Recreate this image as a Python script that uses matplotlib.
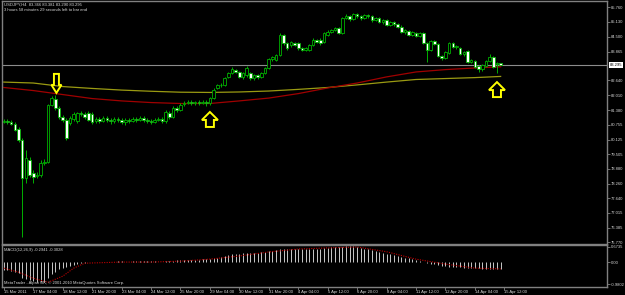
import numpy as np
import matplotlib
matplotlib.use("Agg")
import matplotlib.pyplot as plt
from matplotlib.patches import Rectangle, Polygon

# USDJPY H4 candles
opens = [80.87, 80.92, 80.87, 80.79, 80.58, 80.11, 78.49, 79.26, 78.71, 78.58, 78.62, 79.13,
         79.17, 81.60, 81.85, 81.47, 81.09, 80.96, 80.83, 81.00, 80.92, 81.26, 81.21, 81.26,
         81.21, 80.92, 81.00, 80.92, 81.04, 80.96, 80.92, 81.00, 80.96, 80.87, 80.96, 80.92,
         81.00, 80.96, 81.04, 80.96, 80.92, 80.87, 80.96, 81.00, 80.92, 81.26, 81.09, 81.47,
         81.38, 81.64, 81.68, 81.72, 81.68, 81.72, 81.68, 81.72, 81.68, 81.89, 82.32, 82.45,
         82.45, 82.79, 82.96, 83.08, 83.00, 82.79, 82.87, 82.96, 82.74, 82.87, 82.79, 82.96,
         83.17, 83.55, 83.51, 83.72, 84.57, 84.23, 84.15, 84.23, 84.23, 84.02, 83.93, 83.93,
         84.15, 84.36, 84.36, 84.27, 84.57, 84.70, 84.78, 84.87, 84.66, 85.29, 85.38, 85.25,
         85.46, 85.38, 85.29, 85.42, 85.38, 85.21, 85.29, 85.12, 85.21, 85.00, 85.12, 85.04,
         84.91, 84.70, 84.74, 84.57, 84.66, 84.53, 84.66, 84.23, 83.93, 84.32, 84.19, 83.68,
         83.59, 83.81, 84.23, 84.06, 84.02, 83.76, 83.89, 83.42, 83.47, 83.25, 83.13, 83.25,
         83.47, 83.64, 83.34, 83.366]
highs = [81.00, 81.00, 80.96, 80.87, 80.66, 80.19, 79.68, 79.39, 78.83, 78.75, 79.26, 79.30,
         81.64, 81.98, 82.02, 81.55, 81.17, 81.04, 81.13, 81.30, 81.30, 81.34, 81.30, 81.34,
         81.30, 81.09, 81.09, 81.13, 81.13, 81.04, 81.09, 81.09, 81.04, 81.04, 81.04, 81.09,
         81.09, 81.13, 81.13, 81.04, 81.00, 81.04, 81.09, 81.09, 81.38, 81.34, 81.55, 81.55,
         81.68, 81.77, 81.81, 81.81, 81.77, 81.81, 81.81, 81.81, 81.94, 82.32, 82.49, 82.53,
         82.79, 83.00, 83.21, 83.13, 83.04, 83.00, 83.25, 83.00, 82.91, 82.91, 83.00, 83.21,
         83.59, 83.68, 83.76, 84.66, 84.61, 84.27, 84.32, 84.27, 84.27, 84.06, 84.06, 84.19,
         84.44, 84.40, 84.44, 84.70, 84.78, 84.83, 84.91, 84.91, 85.34, 85.46, 85.42, 85.51,
         85.51, 85.42, 85.46, 85.46, 85.42, 85.34, 85.34, 85.25, 85.25, 85.17, 85.17, 85.08,
         85.00, 84.83, 84.78, 84.74, 84.70, 84.70, 84.70, 84.27, 84.36, 84.36, 84.23, 83.72,
         83.89, 84.27, 84.27, 84.15, 84.06, 83.89, 83.93, 83.55, 83.51, 83.30, 83.34, 83.51,
         83.76, 83.68, 83.42, 83.381]
lows = [80.83, 80.79, 80.75, 80.49, 80.02, 75.99, 78.28, 78.54, 78.28, 78.49, 78.54, 79.05,
        79.13, 81.55, 81.38, 81.00, 80.87, 80.11, 80.75, 80.92, 80.83, 81.13, 81.00, 80.92,
        80.79, 80.83, 80.83, 80.87, 80.87, 80.79, 80.83, 80.87, 80.79, 80.75, 80.83, 80.87,
        80.87, 80.92, 80.87, 80.83, 80.79, 80.83, 80.92, 80.83, 80.83, 81.00, 81.04, 81.30,
        81.34, 81.55, 81.64, 81.60, 81.60, 81.60, 81.64, 81.55, 81.60, 81.85, 82.28, 82.36,
        82.40, 82.74, 82.91, 82.96, 82.74, 82.70, 82.79, 82.66, 82.66, 82.70, 82.74, 82.91,
        83.13, 83.47, 83.47, 83.68, 84.15, 83.93, 84.06, 84.10, 83.93, 83.89, 83.89, 83.89,
        84.10, 84.23, 84.15, 84.23, 84.53, 84.66, 84.74, 84.61, 84.61, 85.25, 85.17, 85.21,
        85.29, 85.21, 85.25, 85.29, 85.12, 85.17, 85.08, 85.04, 84.95, 84.95, 84.95, 84.87,
        84.66, 84.61, 84.53, 84.53, 84.49, 84.49, 84.19, 83.42, 83.89, 84.15, 83.64, 83.51,
        83.55, 83.76, 84.02, 83.98, 83.72, 83.68, 83.38, 83.38, 83.17, 83.00, 83.04, 83.21,
        83.42, 83.17, 82.96, 83.290]
closes = [80.92, 80.87, 80.79, 80.53, 80.11, 78.49, 79.34, 78.62, 78.54, 78.62, 79.13, 79.17,
          81.60, 81.89, 81.47, 81.09, 80.96, 80.19, 81.04, 81.21, 81.26, 81.21, 81.09, 80.96,
          80.87, 81.00, 80.92, 81.04, 80.96, 80.92, 81.00, 80.96, 80.87, 80.96, 80.92, 81.00,
          80.96, 81.04, 80.96, 80.92, 80.87, 80.96, 81.00, 80.92, 81.30, 81.09, 81.47, 81.38,
          81.60, 81.68, 81.72, 81.68, 81.72, 81.68, 81.72, 81.68, 81.89, 82.23, 82.45, 82.43,
          82.74, 82.96, 83.13, 83.00, 82.79, 82.96, 83.17, 82.74, 82.87, 82.79, 82.96, 83.17,
          83.55, 83.64, 83.72, 84.57, 84.23, 84.02, 84.27, 84.15, 84.02, 83.93, 84.02, 84.15,
          84.36, 84.27, 84.23, 84.66, 84.70, 84.78, 84.87, 84.66, 85.29, 85.38, 85.25, 85.46,
          85.38, 85.29, 85.42, 85.38, 85.21, 85.29, 85.12, 85.21, 85.00, 85.12, 85.04, 84.91,
          84.70, 84.78, 84.57, 84.70, 84.53, 84.66, 84.23, 83.93, 84.32, 84.19, 83.68, 83.59,
          83.85, 84.23, 84.06, 84.10, 83.76, 83.85, 83.42, 83.51, 83.21, 83.13, 83.30, 83.47,
          83.64, 83.21, 83.38, 83.295]

# moving averages, read every 8 bars
ma_bars = [0, 8, 16, 24, 32, 40, 48, 56, 64, 72, 80, 88, 96, 104, 112, 120, 128, 135]
ma_yellow = [82.57, 82.53, 82.38, 82.30, 82.23, 82.18, 82.14, 82.13, 82.15, 82.19, 82.26,
             82.34, 82.45, 82.57, 82.68, 82.72, 82.76, 82.81]
ma_red = [82.34, 82.21, 82.04, 81.87, 81.77, 81.70, 81.66, 81.66, 81.77, 81.89, 82.08,
          82.32, 82.53, 82.79, 83.00, 83.10, 83.17, 83.22]

# MACD(12,26,9) main histogram per bar, signal read at sparse bars
macd_main = [-0.35, -0.36, -0.38, -0.45, -0.50, -0.70, -0.75, -0.80, -0.85, -0.88, -0.90, -0.88,
             -0.72, -0.55, -0.42, -0.33, -0.27, -0.22, -0.16, -0.11, -0.07, -0.04, -0.02, -0.01,
             0.00, 0.01, 0.01, 0.02, 0.02, 0.02, 0.02, 0.03, 0.03, 0.02, 0.02, 0.03,
             0.03, 0.03, 0.03, 0.03, 0.03, 0.03, 0.02, 0.02, 0.04, 0.05, 0.06, 0.07,
             0.08, 0.09, 0.10, 0.10, 0.11, 0.11, 0.12, 0.12, 0.13, 0.16, 0.20, 0.23,
             0.27, 0.31, 0.35, 0.37, 0.38, 0.39, 0.41, 0.41, 0.42, 0.42, 0.43, 0.45,
             0.48, 0.50, 0.52, 0.58, 0.60, 0.60, 0.60, 0.60, 0.60, 0.59, 0.58, 0.58,
             0.59, 0.59, 0.59, 0.61, 0.63, 0.65, 0.66, 0.66, 0.68, 0.70, 0.70, 0.70,
             0.68, 0.64, 0.60, 0.57, 0.53, 0.50, 0.46, 0.42, 0.38, 0.34, 0.30, 0.27,
             0.24, 0.20, 0.16, 0.12, 0.08, 0.05, 0.01, -0.03, -0.07, -0.10, -0.13, -0.16,
             -0.18, -0.20, -0.22, -0.23, -0.24, -0.25, -0.26, -0.27, -0.28, -0.28, -0.29, -0.30,
             -0.30, -0.30, -0.30, -0.2941]
sig_bars = [0, 4, 8, 12, 16, 19, 22, 32, 40, 48, 56, 64, 72, 80, 88, 96, 104, 112, 120, 128, 135]
macd_signal = [-0.27, -0.45, -0.72, -0.90, -0.63, -0.27, -0.05, 0.0, 0.0, 0.04, 0.13, 0.27,
               0.45, 0.58, 0.63, 0.67, 0.46, 0.13, -0.09, -0.27, -0.3028]

date_labels = ["15 Mar 2011", "17 Mar 04:00", "18 Mar 12:00", "21 Mar 20:00", "23 Mar 04:00",
               "24 Mar 12:00", "25 Mar 20:00", "29 Mar 04:00", "30 Mar 12:00", "31 Mar 20:00",
               "4 Apr 04:00", "5 Apr 12:00", "6 Apr 20:00", "8 Apr 04:00", "11 Apr 12:00",
               "12 Apr 20:00", "14 Apr 04:00", "15 Apr 12:00"]
price_ticks = [85.760, 85.130, 84.500, 83.865, 82.640, 82.010, 81.380, 80.755, 80.125,
               79.505, 78.880, 78.260, 77.640, 77.015, 76.385, 75.770]
last_price = 83.295
macd_ticks = [0.6735, 0.0, -0.9802]

# arrows: (bar, price of tip, direction)
arrows = [(14.3, 82.11, "down"), (56, 81.30, "up"), (134, 82.57, "up")]

plt.rcParams["font.family"] = ["Liberation Sans", "DejaVu Sans"]

BG = "black"
GRID = "#808080"
TXT = "#d8d8d8"
CANDLE = "#00b000"
FS = 3.0

W, H = 625, 295
fig = plt.figure(figsize=(W / 100, H / 100), dpi=100, facecolor=BG)
ax = fig.add_axes([2 / W, 1 - 244 / H, 605 / W, 243 / H], facecolor=BG)
mx = fig.add_axes([2 / W, 1 - 287 / H, 605 / W, 42 / H], facecolor=BG, sharex=ax)

n = len(closes)
x = np.arange(n)

# candles
ax.vlines(x, lows, highs, color=CANDLE, lw=0.7, zorder=3)
for i in range(n):
    o, c = opens[i], closes[i]
    lo, hi = min(o, c), max(o, c)
    face = BG if c >= o else "white"
    if hi - lo < 0.02:
        ax.hlines(c, i - 0.35, i + 0.35, color=CANDLE, lw=0.8, zorder=4)
    else:
        ax.add_patch(Rectangle((i - 0.35, lo), 0.7, hi - lo, facecolor=face,
                               edgecolor=CANDLE, lw=0.6, zorder=4))

ax.plot(ma_bars, ma_yellow, color="#9a9a12", lw=0.9, zorder=2)
ax.plot(ma_bars, ma_red, color="#a00000", lw=0.9, zorder=2)
ax.axhline(last_price, color="#8c8c8c", lw=0.8, zorder=1)

ax.set_xlim(-0.49, 163.9)
ax.set_ylim(75.69, 86.015)

ax.yaxis.tick_right()
ax.set_yticks(price_ticks)
ax.set_yticklabels(["%.3f" % p for p in price_ticks])
ax.tick_params(axis="y", colors=GRID, labelcolor=TXT, labelsize=FS, length=2, width=0.6, pad=1.0)
ax.tick_params(axis="x", bottom=False, labelbottom=False)
for s in ax.spines.values():
    s.set_color(GRID)
    s.set_linewidth(1.0)
ax.text(1.004, (last_price - 75.69) / (86.015 - 75.69), "%.3f" % last_price,
        transform=ax.transAxes, fontsize=FS, color="black", va="center", ha="left",
        bbox=dict(boxstyle="square,pad=0.15", fc="white", ec="none"))

ax.text(0.003, 0.995, "USDJPY,H4  83.366 83.381 83.290 83.295", transform=ax.transAxes,
        fontsize=FS, color=TXT, va="top", ha="left")
ax.text(0.003, 0.972, "3 hours 58 minutes 29 seconds left to bar end", transform=ax.transAxes,
        fontsize=FS, color=TXT, va="top", ha="left")

# MACD panel
mx.vlines(x, 0, macd_main, color="#c8c8c8", lw=0.7)
mx.plot(sig_bars, macd_signal, color="#c00000", lw=0.8, ls=(0, (1, 1.2)))
mx.set_ylim(-1.11, 0.76)
mx.yaxis.tick_right()
mx.set_yticks(macd_ticks)
mx.set_yticklabels(["0.6735", "0.00", "-0.9802"])
mx.tick_params(axis="y", colors=GRID, labelcolor=TXT, labelsize=FS, length=2, width=0.6, pad=1.0)
mx.set_xticks(np.arange(len(date_labels)) * 8)
mx.set_xticklabels(date_labels, ha="left")
mx.tick_params(axis="x", colors=GRID, labelcolor=TXT, labelsize=FS, length=2, width=0.6, pad=0.5)
for s in mx.spines.values():
    s.set_color(GRID)
    s.set_linewidth(1.0)
mx.text(0.004, 0.93, "MACD(12,26,9) -0.2941 -0.3028", transform=mx.transAxes,
        fontsize=FS, color=TXT, va="top", ha="left")
mx.text(0.004, 0.05, "MetaTrader - Alpari UK, \u00a9 2001-2010 MetaQuotes Software Corp.",
        transform=mx.transAxes, fontsize=FS, color=TXT, va="bottom", ha="left")

# yellow outline arrows, shape in pixels around the tip
fig.canvas.draw()
for bx, py, d in arrows:
    tx, ty = ax.transData.transform((bx, py))
    if d == "down":
        shape = [(-2.5, 19), (2.5, 19), (2.5, 8), (5, 8), (0, 0), (-5, 8), (-2.5, 8)]
    else:
        shape = [(-4, -15), (4, -15), (4, -8), (8, -8), (0, 0), (-8, -8), (-4, -8)]
    pts = [(tx + sx, ty + sy) for sx, sy in shape]
    fig.patches.append(Polygon(pts, closed=True, fill=False, edgecolor="#ffff00", lw=1.4,
                               transform=None, figure=fig, zorder=10))

fig.savefig("out.png", dpi=100, facecolor=BG)
